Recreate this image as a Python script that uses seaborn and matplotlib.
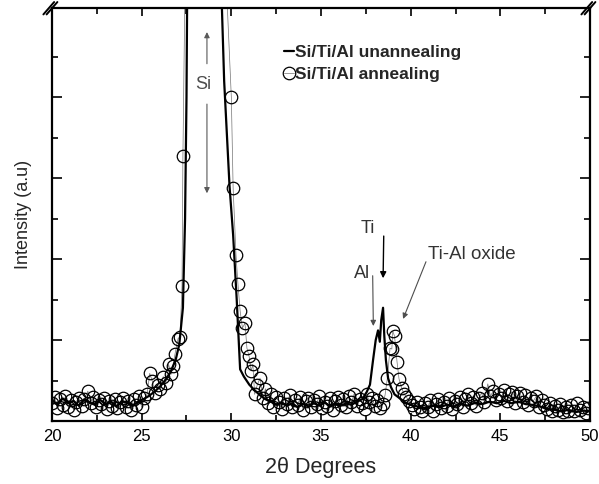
import numpy as np
import pandas as pd
import matplotlib
matplotlib.use("Agg")
import matplotlib.pyplot as plt
import seaborn as sns

# 2theta (deg) and intensity (a.u.); peak tops lie above the axis break
unann_x = [20.0, 20.3, 20.6, 20.9, 21.2, 21.5, 21.8, 22.1, 22.4, 22.7, 23.0, 23.3, 23.6, 23.9,
           24.2, 24.5, 24.8, 25.1, 25.4, 25.7, 26.0, 26.3, 26.6, 26.9, 27.1, 27.3, 27.42, 27.5,
           27.56, 28.4, 29.35, 29.6, 29.9, 30.1, 30.3, 30.49, 30.7, 31.0, 31.3, 31.6, 31.9, 32.2,
           32.5, 32.8, 33.1, 33.4, 33.7, 34.0, 34.3, 34.6, 34.9, 35.2, 35.5, 35.8, 36.1, 36.4,
           36.7, 37.0, 37.3, 37.55, 37.73, 37.9, 38.05, 38.18, 38.28, 38.36, 38.46, 38.53, 38.62,
           38.74, 38.9, 39.1, 39.4, 39.7, 40.0, 40.4, 40.8, 41.2, 41.6, 42.0, 42.4, 42.8, 43.2,
           43.6, 44.0, 44.4, 44.8, 45.2, 45.6, 46.0, 46.4, 46.8, 47.2, 47.6, 48.0, 48.4, 48.8,
           49.2, 49.6, 50.0]
unann_y = [0.26, 0.20, 0.28, 0.22, 0.25, 0.19, 0.27, 0.23, 0.20, 0.26, 0.21, 0.24, 0.18, 0.25,
           0.22, 0.19, 0.24, 0.27, 0.31, 0.36, 0.42, 0.50, 0.60, 0.76, 0.95, 1.4, 2.5, 4.0,
           6.0, 15.0, 6.0, 4.2, 2.9, 2.3, 1.5, 0.64, 0.55, 0.45, 0.38, 0.32, 0.27, 0.24,
           0.20, 0.23, 0.19, 0.22, 0.17, 0.21, 0.18, 0.22, 0.19, 0.23, 0.18, 0.21, 0.19, 0.22,
           0.20, 0.24, 0.27, 0.36, 0.45, 0.75, 1.0, 1.12, 0.98, 1.25, 1.40, 1.05, 0.75,
           0.53, 0.42, 0.33, 0.28, 0.23, 0.20, 0.18, 0.16, 0.19, 0.17, 0.20, 0.18, 0.21, 0.19,
           0.23, 0.21, 0.24, 0.22, 0.25, 0.22, 0.24, 0.21, 0.20, 0.18, 0.15, 0.14, 0.12, 0.14,
           0.11, 0.13, 0.12]

ann_x = [20.0, 20.15, 20.3, 20.45, 20.6, 20.75, 20.9, 21.05, 21.2, 21.35, 21.5, 21.65, 21.8,
         22.0, 22.15, 22.3, 22.45, 22.6, 22.75, 22.9, 23.05, 23.2, 23.35, 23.5, 23.65, 23.8,
         23.95, 24.1, 24.25, 24.4, 24.55, 24.7, 24.85, 25.0, 25.15, 25.3, 25.45, 25.6, 25.75,
         25.9, 26.05, 26.2, 26.35, 26.5, 26.65, 26.75, 26.86, 27.03, 27.14, 27.25, 27.3, 27.45,
         28.4, 29.6, 30.0, 30.1, 30.26, 30.37, 30.49, 30.62, 30.76, 30.87, 30.99, 31.1, 31.2,
         31.3, 31.45, 31.6, 31.77, 31.9, 32.05, 32.2, 32.35, 32.5, 32.65, 32.8, 32.95, 33.1,
         33.25, 33.4, 33.55, 33.7, 33.85, 34.0, 34.15, 34.3, 34.45, 34.6, 34.75, 34.9, 35.05,
         35.2, 35.35, 35.5, 35.65, 35.8, 35.95, 36.1, 36.25, 36.4, 36.55, 36.7, 36.85, 37.0,
         37.15, 37.3, 37.45, 37.55, 37.7, 37.85, 38.0, 38.15, 38.3, 38.45, 38.57, 38.7, 38.85,
         38.95, 39.0, 39.1, 39.24, 39.35, 39.5, 39.62, 39.75, 39.9, 40.05, 40.2, 40.35, 40.5,
         40.65, 40.8, 40.95, 41.1, 41.25, 41.4, 41.55, 41.7, 41.85, 42.0, 42.15, 42.3, 42.45,
         42.6, 42.75, 42.9, 43.05, 43.2, 43.35, 43.5, 43.65, 43.8, 43.95, 44.1, 44.3, 44.45,
         44.6, 44.75, 44.9, 45.05, 45.2, 45.35, 45.5, 45.65, 45.8, 45.95, 46.1, 46.25, 46.4,
         46.55, 46.7, 46.85, 47.0, 47.15, 47.3, 47.45, 47.6, 47.75, 47.9, 48.05, 48.2, 48.35,
         48.5, 48.65, 48.8, 48.95, 49.1, 49.3, 49.45, 49.6, 49.75, 49.9]
ann_y = [0.22, 0.30, 0.16, 0.27, 0.20, 0.31, 0.18, 0.26, 0.14, 0.24, 0.29, 0.19, 0.27,
         0.37, 0.22, 0.30, 0.17, 0.26, 0.21, 0.28, 0.15, 0.25, 0.19, 0.27, 0.16, 0.23,
         0.29, 0.18, 0.25, 0.14, 0.27, 0.20, 0.31, 0.17, 0.28, 0.33, 0.59, 0.49, 0.35,
         0.44, 0.40, 0.55, 0.47, 0.70, 0.58, 0.68, 0.83, 1.02, 1.04, 1.67, 3.27, 6.0,
         15.0, 6.0, 4.0, 2.88, 2.05, 1.69, 1.36, 1.15, 1.21, 0.90, 0.80, 0.62, 0.70,
         0.33, 0.45, 0.53, 0.28, 0.40, 0.22, 0.34, 0.18, 0.30, 0.24, 0.15, 0.28, 0.21,
         0.32, 0.17, 0.26, 0.20, 0.30, 0.14, 0.25, 0.29, 0.18, 0.26, 0.21, 0.31, 0.16,
         0.24, 0.19, 0.28, 0.14, 0.25, 0.30, 0.20, 0.27, 0.17, 0.31, 0.23, 0.34, 0.19,
         0.27, 0.22, 0.15, 0.33, 0.24, 0.28, 0.19, 0.26, 0.16, 0.21, 0.32, 0.53, 0.90,
         0.89, 1.11, 1.05, 0.73, 0.52, 0.41, 0.34, 0.30, 0.25, 0.20, 0.15, 0.24, 0.18,
         0.13, 0.22, 0.17, 0.26, 0.12, 0.21, 0.27, 0.16, 0.23, 0.19, 0.29, 0.15, 0.25,
         0.21, 0.30, 0.18, 0.27, 0.33, 0.22, 0.30, 0.19, 0.28, 0.35, 0.24, 0.46, 0.31,
         0.37, 0.26, 0.34, 0.29, 0.38, 0.25, 0.33, 0.36, 0.22, 0.31, 0.35, 0.24, 0.32,
         0.20, 0.29, 0.25, 0.31, 0.18, 0.26, 0.20, 0.15, 0.22, 0.12, 0.19, 0.14, 0.21,
         0.11, 0.17, 0.13, 0.20, 0.12, 0.22, 0.14, 0.18, 0.10, 0.16]

x_ticks = [20, 25, 30, 35, 40, 45, 50]

sns.set_style("ticks")
plt.rcParams['font.family'] = ['Liberation Sans', 'DejaVu Sans']


def main():
    df_un = pd.DataFrame({"theta": unann_x, "I": unann_y})
    df_an = pd.DataFrame({"theta": ann_x, "I": ann_y})

    fig = plt.figure(figsize=(5.99, 4.84), dpi=100)
    ax = fig.add_axes([0.0868, 0.130, 0.8982, 0.853])

    sns.lineplot(data=df_un, x="theta", y="I", ax=ax, color="black", linewidth=1.6,
                 estimator=None, sort=False, label="Si/Ti/Al unannealing", zorder=3)
    sns.lineplot(data=df_an, x="theta", y="I", ax=ax, color="0.45", linewidth=0.5,
                 estimator=None, sort=False, marker="o", markersize=9,
                 markerfacecolor="none", markeredgecolor="black", markeredgewidth=0.9,
                 label="Si/Ti/Al annealing", zorder=2)

    ax.set_xlim(20, 50)
    ax.set_ylim(0, 5.1)
    ax.set_xticks(x_ticks)
    ax.set_xticks(np.arange(22.5, 50, 5), minor=True)
    ax.set_yticks([1, 2, 3, 4])
    ax.set_yticks(np.arange(0.5, 5.0, 1.0), minor=True)
    ax.set_yticklabels([])
    ax.tick_params(which="both", direction="in", top=True, right=True, width=1.2,
                   labelsize=12, colors="black")
    ax.tick_params(axis="x", which="major", length=6, pad=6)
    ax.tick_params(axis="x", which="minor", length=4)
    ax.tick_params(axis="y", which="major", length=7)
    ax.tick_params(axis="y", which="minor", length=4)
    for sp in ax.spines.values():
        sp.set_linewidth(1.6)
        sp.set_color("black")

    ax.set_xlabel("2θ Degrees", fontsize=15.5, labelpad=9)
    ax.set_ylabel("Intensity (a.u)", fontsize=13, labelpad=11)

    # axis break marks at the top corners
    for x0 in (0.0, 1.0):
        for dx in (-0.006, 0.0):
            ax.plot([x0 + dx - 0.010, x0 + dx + 0.010], [0.985, 1.015],
                    transform=ax.transAxes, color="black", lw=1.4, clip_on=False)

    # peak annotations
    ax.text(28.42, 4.16, "Si", fontsize=13, ha="center", va="center", color="0.3")
    ax.annotate("", xy=(28.64, 4.84), xytext=(28.64, 4.38),
                arrowprops=dict(arrowstyle="-|>", color="0.35", lw=0.8, mutation_scale=8))
    ax.annotate("", xy=(28.64, 2.78), xytext=(28.64, 3.95),
                arrowprops=dict(arrowstyle="-|>", color="0.35", lw=0.8, mutation_scale=8))

    ax.text(37.6, 2.38, "Ti", fontsize=13, ha="center", va="center", color="0.2")
    ax.annotate("", xy=(38.46, 1.73), xytext=(38.5, 2.32),
                arrowprops=dict(arrowstyle="-|>", color="black", lw=1.0, mutation_scale=9))

    ax.text(37.3, 1.82, "Al", fontsize=13, ha="center", va="center", color="0.2")
    ax.annotate("", xy=(37.92, 1.14), xytext=(37.88, 1.83),
                arrowprops=dict(arrowstyle="-|>", color="0.3", lw=0.8, mutation_scale=8))

    ax.text(40.97, 2.06, "Ti-Al oxide", fontsize=13.5, ha="left", va="center", color="0.2")
    ax.annotate("", xy=(39.52, 1.23), xytext=(40.91, 2.0),
                arrowprops=dict(arrowstyle="-|>", color="0.3", lw=0.8, mutation_scale=8))

    ax.legend(loc="upper left", bbox_to_anchor=(0.402, 0.95), frameon=False,
              handlelength=0.6, handletextpad=0.05, labelspacing=0.4,
              prop={"weight": "bold", "size": 12.5})

    fig.savefig("out.png", dpi=100)


if __name__ == "__main__":
    main()
